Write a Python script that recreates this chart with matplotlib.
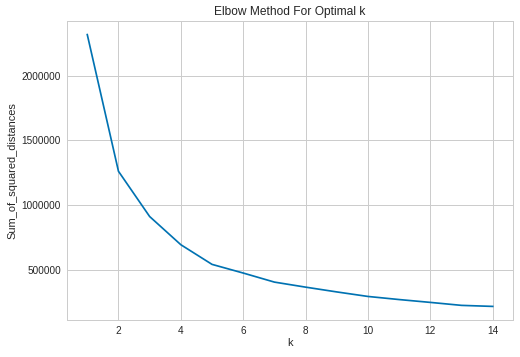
import matplotlib
matplotlib.use('Agg')
import matplotlib.pyplot as plt

k_values = [1, 2, 3, 4, 5, 6, 7, 8, 9, 10, 11, 12, 13, 14]
sum_of_squared_distances = [2317000, 1260000, 910000, 692000, 540000, 473000, 403000,
                            364000, 327000, 292000, 268000, 246000, 223000, 215000]

plt.rcParams['font.family'] = ['Liberation Sans', 'DejaVu Sans']
plt.rcParams['axes.edgecolor'] = '#cccccc'
plt.rcParams['axes.linewidth'] = 1.0
plt.rcParams['grid.color'] = '#cccccc'
plt.rcParams['grid.linewidth'] = 1.0
plt.rcParams['xtick.color'] = '#262626'
plt.rcParams['ytick.color'] = '#262626'
plt.rcParams['axes.labelcolor'] = '#262626'

fig = plt.figure(figsize=(520 / 72, 357 / 72), dpi=72)
ax = fig.add_axes([67 / 520, 1 - 320 / 357, (513 - 67) / 520, (320 - 21) / 357])
ax.plot(k_values, sum_of_squared_distances, color='#0072B2', linewidth=1.7)
ax.grid(True)
ax.set_axisbelow(True)
ax.tick_params(length=0, labelsize=10, pad=6)
ax.ticklabel_format(axis='y', style='plain', useOffset=False)
ax.set_xlabel('k', fontsize=11, labelpad=2)
ax.set_ylabel('Sum_of_squared_distances', fontsize=11)
ax.set_title('Elbow Method For Optimal k', fontsize=12, color='#262626', pad=6)
fig.savefig('out.png', dpi=72)
